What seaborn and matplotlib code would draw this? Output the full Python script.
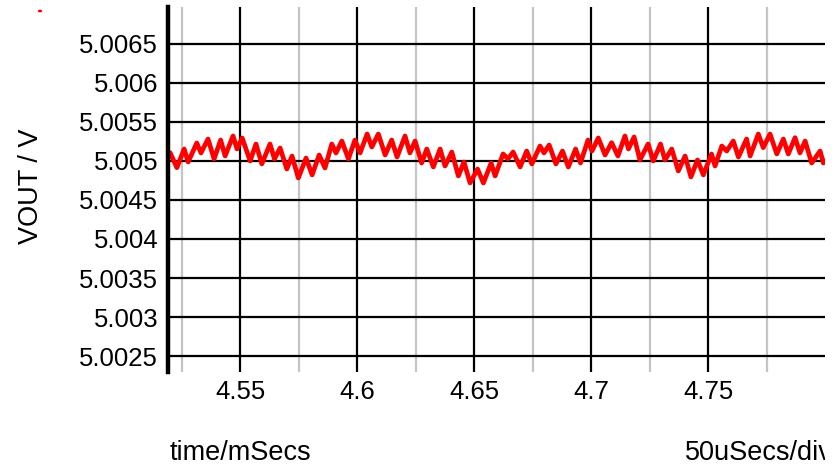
import matplotlib
matplotlib.use("Agg")
import matplotlib.pyplot as plt
import seaborn as sns
import pandas as pd
from matplotlib.transforms import Bbox
from matplotlib.patches import Circle

# ---- data ----
time_ms = [4.5191, 4.5201, 4.5230, 4.5261, 4.5278, 4.5315, 4.5333, 4.5363, 4.5389, 4.5417,
           4.5436, 4.5470, 4.5487, 4.5509, 4.5543, 4.5568, 4.5593, 4.5628, 4.5647, 4.5671,
           4.5700, 4.5722, 4.5749, 4.5782, 4.5808, 4.5838, 4.5863, 4.5892, 4.5910, 4.5935,
           4.5963, 4.5991, 4.6013, 4.6043, 4.6063, 4.6091, 4.6120, 4.6148, 4.6171, 4.6205,
           4.6226, 4.6248, 4.6276, 4.6298, 4.6326, 4.6355, 4.6376, 4.6405, 4.6433, 4.6457,
           4.6483, 4.6515, 4.6540, 4.6573, 4.6590, 4.6624, 4.6645, 4.6667, 4.6697, 4.6725,
           4.6747, 4.6782, 4.6799, 4.6821, 4.6850, 4.6878, 4.6903, 4.6934, 4.6955, 4.6987,
           4.7004, 4.7031, 4.7060, 4.7088, 4.7115, 4.7145, 4.7160, 4.7184, 4.7209, 4.7244,
           4.7266, 4.7297, 4.7316, 4.7345, 4.7373, 4.7402, 4.7427, 4.7455, 4.7480, 4.7515,
           4.7530, 4.7559, 4.7580, 4.7608, 4.7630, 4.7665, 4.7680, 4.7715, 4.7736, 4.7765,
           4.7794, 4.7822, 4.7843, 4.7872, 4.7893, 4.7915, 4.7943, 4.7979, 4.7993, 4.8000]
vout = [5.005026, 5.005106, 5.004914, 5.005154, 5.004987, 5.005231, 5.005103, 5.005282, 5.005026, 5.005269,
        5.005064, 5.005321, 5.005154, 5.005295, 5.005000, 5.005218, 5.004962, 5.005218, 5.005026, 5.005167,
        5.004897, 5.005064, 5.004782, 5.005038, 5.004821, 5.005077, 5.004910, 5.005218, 5.005103, 5.005256,
        5.005026, 5.005269, 5.005103, 5.005346, 5.005179, 5.005346, 5.005077, 5.005269, 5.005051, 5.005321,
        5.005103, 5.005256, 5.004974, 5.005154, 5.004923, 5.005154, 5.004936, 5.005115, 5.004808, 5.004987,
        5.004718, 5.004897, 5.004718, 5.004974, 5.004808, 5.005090, 5.005026, 5.005115, 5.004923, 5.005128,
        5.004962, 5.005192, 5.005103, 5.005205, 5.004962, 5.005128, 5.004923, 5.005154, 5.004974, 5.005269,
        5.005128, 5.005295, 5.005077, 5.005235, 5.005064, 5.005321, 5.005154, 5.005308, 5.005013, 5.005218,
        5.005000, 5.005218, 5.005013, 5.005154, 5.004872, 5.005064, 5.004795, 5.005013, 5.004821, 5.005090,
        5.004936, 5.005192, 5.005128, 5.005256, 5.005051, 5.005282, 5.005064, 5.005346, 5.005171, 5.005346,
        5.005090, 5.005282, 5.005090, 5.005299, 5.005103, 5.005256, 5.004974, 5.005128, 5.004974, 5.005000]

x_major = [4.55, 4.6, 4.65, 4.7, 4.75]
x_major_labels = ["4.55", "4.6", "4.65", "4.7", "4.75"]
x_minor = [4.525, 4.575, 4.625, 4.675, 4.725, 4.775]
y_ticks = [5.0025, 5.003, 5.0035, 5.004, 5.0045, 5.005, 5.0055, 5.006, 5.0065]
y_labels = ["5.0025", "5.003", "5.0035", "5.004", "5.0045", "5.005", "5.0055", "5.006", "5.0065"]

df = pd.DataFrame({"time": time_ms, "vout": vout})

sns.set_style("white")
plt.rcParams["font.family"] = ["Liberation Sans", "DejaVu Sans"]

W, H = 840, 468
fig = plt.figure(figsize=(8.4, 4.68), dpi=100)
ax = fig.add_axes([168 / W, 1 - 372 / H, (825 - 168) / W, (372 - 7) / H])

sns.lineplot(data=df, x="time", y="vout", ax=ax, color="#ff0000", lw=3.4, zorder=5)

ax.set_xlim(4.5192, 4.8000)
ax.set_ylim(5.002295, 5.006974)

ax.set_xticks(x_major)
ax.set_xticklabels(x_major_labels)
ax.set_xticks(x_minor, minor=True)
ax.set_yticks(y_ticks)
ax.set_yticklabels(y_labels)

ax.set_axisbelow(True)
ax.grid(which="major", axis="both", color="black", lw=1.6)
ax.grid(which="minor", axis="x", color="#c4c4c4", lw=1.6)

ax.tick_params(axis="x", which="both", length=0, pad=6, labelsize=18.5, colors="black")
ax.tick_params(axis="y", which="major", length=6, width=1.6, direction="out",
               pad=1, labelsize=18.5, colors="black")

for s in ["top", "right", "bottom"]:
    ax.spines[s].set_visible(False)
ax.spines["left"].set_color("black")
ax.spines["left"].set_linewidth(3.2)
ax.spines["left"].set_zorder(6)

ax.set_xlabel("")
ax.set_ylabel("")

fig.text(31 / W, 1 - 186 / H, "VOUT / V", rotation=90, ha="center", va="center",
         fontsize=19.5, color="black")
fig.text(170 / W, 1 - 453 / H, "time/mSecs", ha="left", va="center",
         fontsize=19.5, color="black")
t = fig.text(685 / W, 1 - 453 / H, "50uSecs/div", ha="left", va="center",
             fontsize=19.5, color="black")
t.set_clip_box(Bbox.from_extents(0, 0, 825, H))
t.set_clip_on(True)

fig.add_artist(Circle((40 / W, 1 - 11 / H), 1.3 / W, color="#ff0000",
                      transform=fig.transFigure))

fig.savefig("out.png", dpi=100)
